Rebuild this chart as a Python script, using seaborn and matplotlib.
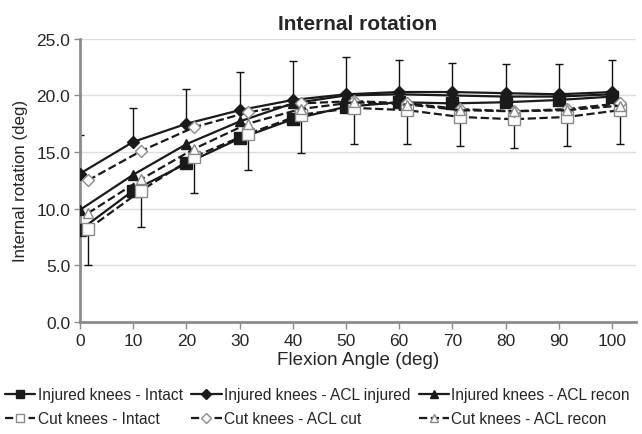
import numpy as np
import pandas as pd
import matplotlib
matplotlib.use("Agg")
import matplotlib.pyplot as plt
import seaborn as sns

# Flexion angles (deg)
angles = [0, 10, 20, 30, 40, 50, 60, 70, 80, 90, 100]

# Internal rotation (deg)
inj_intact = [8.1, 11.6, 14.0, 16.2, 17.9, 19.0, 19.4, 19.3, 19.4, 19.6, 19.9]
inj_acl_injured = [13.1, 15.9, 17.5, 18.7, 19.6, 20.1, 20.3, 20.3, 20.2, 20.1, 20.3]
inj_acl_recon = [9.9, 13.0, 15.7, 17.7, 19.3, 20.0, 20.1, 20.0, 19.9, 19.9, 20.1]
cut_intact = [8.2, 11.6, 14.6, 16.6, 18.3, 18.9, 18.7, 18.1, 17.9, 18.1, 18.7]
cut_acl_cut = [12.5, 15.1, 17.2, 18.5, 19.3, 19.5, 19.3, 18.8, 18.6, 18.8, 19.3]
cut_acl_recon = [9.6, 12.6, 15.3, 17.5, 18.8, 19.4, 19.2, 18.7, 18.6, 18.7, 19.1]

# error bar ends (top of ACL injured, bottom of cut intact)
err_top = [16.5, 18.9, 20.6, 22.1, 23.0, 23.4, 23.1, 22.9, 22.8, 22.8, 23.1]
err_bottom = [5.0, 8.4, 11.4, 13.4, 14.9, 15.7, 15.7, 15.5, 15.4, 15.5, 15.7]

series = [
    ("Injured knees - Intact", inj_intact, "-", "s", "#1a1a1a", "#1a1a1a", 0.0),
    ("Injured knees - ACL injured", inj_acl_injured, "-", "D", "#1a1a1a", "#1a1a1a", 0.0),
    ("Injured knees - ACL recon", inj_acl_recon, "-", "^", "#1a1a1a", "#1a1a1a", 0.0),
    ("Cut knees - Intact", cut_intact, "--", "s", "white", "#8a8a8a", 1.5),
    ("Cut knees - ACL cut", cut_acl_cut, "--", "D", "white", "#8a8a8a", 1.5),
    ("Cut knees - ACL recon", cut_acl_recon, "--", "^", "white", "#8a8a8a", 1.5),
]

sns.set_style("white")
plt.rcParams["font.family"] = ["Liberation Sans", "DejaVu Sans"]

fig = plt.figure(figsize=(6.42, 4.35), dpi=100)
ax = fig.add_axes([0.1246, 0.2575, 0.866, 0.651])

x_arr = np.array(angles, dtype=float)

# error bars drawn first so markers sit on top
ax.errorbar(x_arr, inj_acl_injured,
            yerr=[np.zeros(len(angles)), np.array(err_top) - np.array(inj_acl_injured)],
            fmt="none", ecolor="#111111", elinewidth=1.0, capsize=3, capthick=1.0, zorder=2)
ax.errorbar(x_arr + 1.5, cut_intact,
            yerr=[np.array(cut_intact) - np.array(err_bottom), np.zeros(len(angles))],
            fmt="none", ecolor="#111111", elinewidth=1.0, capsize=3, capthick=1.0, zorder=2)

for label, vals, ls, mk, fc, ec, dx in series:
    df = pd.DataFrame({"angle": x_arr + dx, "rot": vals})
    ms = {"s": 8, "D": 6.5, "^": 7.5}[mk]
    sns.lineplot(data=df, x="angle", y="rot", ax=ax, label=label,
                 color="#1a1a1a", linestyle=ls, linewidth=1.6,
                 marker=mk, markersize=ms, markerfacecolor=fc,
                 markeredgecolor=ec, markeredgewidth=1.0, zorder=3)

ax.set_xlim(0, 104.5)
ax.set_ylim(0, 25)
ax.set_xticks(angles)
ax.set_yticks(np.arange(0, 25.1, 5))
ax.set_yticklabels([f"{v:.1f}" for v in np.arange(0, 25.1, 5)])
ax.yaxis.grid(True, color="#dddddd", linewidth=1.0)
ax.xaxis.grid(False)
ax.set_axisbelow(True)

for s in ["top", "right"]:
    ax.spines[s].set_visible(False)
for s in ["left", "bottom"]:
    ax.spines[s].set_color("#8c8c8c")
    ax.spines[s].set_linewidth(2.0)

ax.tick_params(axis="x", direction="out", length=5, width=1, color="#8c8c8c",
               labelsize=12.5, pad=3, bottom=True)
ax.tick_params(axis="y", direction="out", length=4, width=1, color="#8c8c8c",
               labelsize=12.5, pad=3, left=True)

ax.set_xlabel("Flexion Angle (deg)", fontsize=13.6, labelpad=2)
ax.set_ylabel("Internal rotation (deg)", fontsize=12.2, labelpad=6)
ax.set_title("Internal rotation", fontsize=15, fontweight="bold", pad=7)

ax.get_legend().remove()
handles, labels = ax.get_legend_handles_labels()
# matplotlib fills legend columns first; reorder so rows read as in the figure
order = [0, 3, 1, 4, 2, 5]
leg = fig.legend([handles[i] for i in order], [labels[i] for i in order],
                 loc="upper left", ncol=3, frameon=False,
                 bbox_to_anchor=(5 / 642, 1 - 388 / 435), borderpad=0,
                 borderaxespad=0, fontsize=11.2, handlelength=1.95,
                 handletextpad=0.15, columnspacing=0.55, labelspacing=0.6,
                 markerscale=0.75)

fig.savefig("out.png", dpi=100)
